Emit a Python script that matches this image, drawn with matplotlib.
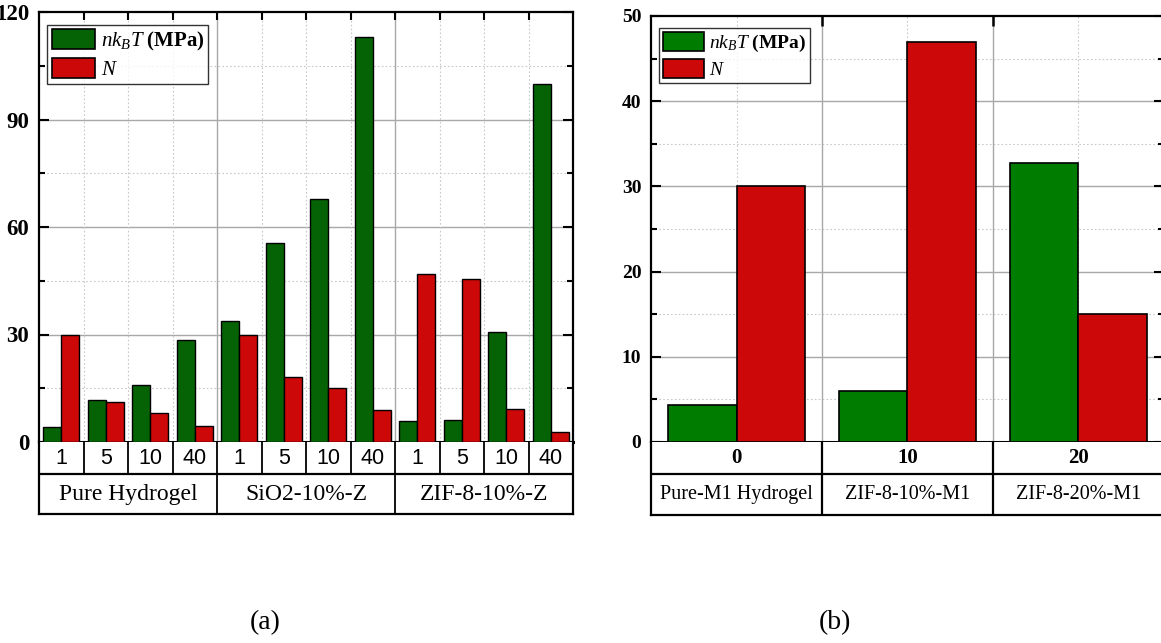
import matplotlib
matplotlib.use("Agg")
import matplotlib.pyplot as plt
from matplotlib.patches import Patch
import numpy as np

# --- dados ---
# (a) doses 1/5/10/40 para cada material
doses_a = ["1", "5", "10", "40"] * 3
materiais_a = ["Pure Hydrogel", "SiO2-10%-Z", "ZIF-8-10%-Z"]
nkbt_a = [4.3, 11.7, 15.9, 28.6, 33.9, 55.6, 67.9, 113.1, 6.0, 6.2, 30.7, 99.8]
n_a = [30.0, 11.1, 8.1, 4.5, 30.0, 18.2, 15.0, 9.0, 46.9, 45.6, 9.2, 2.8]

# (b) teor de ZIF-8
teor_b = ["0", "10", "20"]
materiais_b = ["Pure-M1 Hydrogel", "ZIF-8-10%-M1", "ZIF-8-20%-M1"]
nkbt_b = [4.3, 6.0, 32.8]
n_b = [30.0, 47.0, 15.0]

# --- estilo ---
plt.rcParams["font.family"] = ["Liberation Serif"]
plt.rcParams["mathtext.fontset"] = "custom"
plt.rcParams["mathtext.rm"] = "Liberation Serif"
plt.rcParams["mathtext.it"] = "Liberation Serif:italic"
plt.rcParams["mathtext.bf"] = "Liberation Serif:bold"

VERMELHO = "#cc0808"
GRID_MAJ = dict(color="#a8a8a8", lw=1.0, ls="-")
GRID_MIN = dict(color="#c8c8c8", lw=0.8, ls=(0, (1.5, 2)))
LABEL_NKBT = r"$nk_BT\ \mathbf{(MPa)}$"

W, H = 1161, 643
fig = plt.figure(figsize=(W / 100, H / 100), dpi=100)


def px_axes(x0, x1, y0, y1):
    """Cria eixos a partir de coordenadas em pixels (origem no topo)."""
    return fig.add_axes([x0 / W, 1 - y1 / H, (x1 - x0) / W, (y1 - y0) / H])


def estilo_eixo(ax, ymax, ystep, fs, pad):
    ax.set_ylim(0, ymax)
    ax.set_yticks(np.arange(0, ymax + 0.1, ystep))
    ax.set_yticks(np.arange(ystep / 2, ymax, ystep), minor=True)
    ax.tick_params(axis="y", which="both", direction="in", left=True, right=True,
                   width=1.5, labelsize=fs, pad=pad)
    ax.tick_params(axis="y", which="major", length=7)
    ax.tick_params(axis="y", which="minor", length=4)
    for lab in ax.get_yticklabels():
        lab.set_fontweight("bold")
    for s in ax.spines.values():
        s.set_linewidth(1.6)
    ax.spines["bottom"].set_linewidth(2.2)
    ax.set_axisbelow(True)
    for y in np.arange(ystep, ymax, ystep):
        ax.axhline(y, zorder=0, **GRID_MAJ)
    for y in np.arange(ystep / 2, ymax, ystep):
        ax.axhline(y, zorder=0, **GRID_MIN)


def legenda(ax, verde, fs):
    handles = [Patch(facecolor=verde, edgecolor="black", lw=1.2),
               Patch(facecolor=VERMELHO, edgecolor="black", lw=1.2)]
    leg = ax.legend(handles, [LABEL_NKBT, r"$N$"], loc="upper left",
                    bbox_to_anchor=(0.008, 0.98), fontsize=fs, frameon=True,
                    fancybox=False, handlelength=2.1, handleheight=1.1,
                    handletextpad=0.25, labelspacing=0.25, borderpad=0.2,
                    borderaxespad=0.2)
    leg.get_frame().set_edgecolor("black")
    leg.get_frame().set_linewidth(1.0)


def tabela(ax_tab, n):
    ax_tab.set_xlim(0, n)
    ax_tab.set_ylim(0, 1)
    ax_tab.set_xticks([])
    ax_tab.set_yticks([])
    for s in ax_tab.spines.values():
        s.set_linewidth(1.6)
    ax_tab.spines["top"].set_visible(False)
    ax_tab.axhline(0.555, color="black", lw=1.6)


# ---------------- (a) ----------------
ax1 = px_axes(39, 573, 12, 442)
x = np.arange(len(nkbt_a)) + 0.5
ax1.bar(x - 0.2, nkbt_a, width=0.4, color="#056305", edgecolor="black", lw=1.0, zorder=3)
ax1.bar(x + 0.2, n_a, width=0.4, color=VERMELHO, edgecolor="black", lw=1.0, zorder=3)
ax1.set_xlim(0, len(nkbt_a))
estilo_eixo(ax1, 120, 30, 16.5, 7)
for xb in range(1, len(nkbt_a)):
    ax1.axvline(xb, zorder=0, **(GRID_MAJ if xb % 4 == 0 else GRID_MIN))
ax1.set_xticks(range(1, len(nkbt_a)))
ax1.tick_params(axis="x", direction="in", bottom=False, top=True, labelbottom=False,
                length=6, width=1.5)
legenda(ax1, "#056305", 15)

t1 = px_axes(39, 573, 442, 514)
tabela(t1, len(nkbt_a))
for xb in range(1, len(nkbt_a)):
    t1.plot([xb, xb], [0.555 if xb % 4 else 0, 1], color="black", lw=1.3)
for xi, d in zip(x, doses_a):
    t1.text(xi, 0.775, d, ha="center", va="center", fontsize=15.5,
            family="Liberation Sans")
for i, m in enumerate(materiais_a):
    t1.text(4 * i + 2, 0.275, m, ha="center", va="center", fontsize=17)

# ---------------- (b) ----------------
ax2 = px_axes(651, 1164, 16, 442)
xb2 = np.arange(len(nkbt_b)) + 0.5
ax2.bar(xb2 - 0.2, nkbt_b, width=0.4, color="#007c00", edgecolor="black", lw=1.2, zorder=3)
ax2.bar(xb2 + 0.2, n_b, width=0.4, color=VERMELHO, edgecolor="black", lw=1.2, zorder=3)
ax2.set_xlim(0, len(nkbt_b))
estilo_eixo(ax2, 50, 10, 14, 7)
for xv in range(1, len(nkbt_b)):
    ax2.axvline(xv, zorder=0, **GRID_MAJ)
for xv in xb2:
    ax2.axvline(xv, zorder=0, **GRID_MIN)
ax2.set_xticks(range(1, len(nkbt_b)))
ax2.tick_params(axis="x", direction="in", bottom=False, top=True, labelbottom=False,
                length=7, width=1.8)
legenda(ax2, "#007c00", 14)

t2 = px_axes(651, 1164, 442, 515)
tabela(t2, len(nkbt_b))
for xv in range(1, len(nkbt_b)):
    t2.plot([xv, xv], [0, 1], color="black", lw=1.6)
for xi, t, m in zip(xb2, teor_b, materiais_b):
    t2.text(xi, 0.775, t, ha="center", va="center", fontsize=15, fontweight="bold")
    t2.text(xi, 0.275, m, ha="center", va="center", fontsize=14.5)

fig.text(265 / W, 1 - 623 / H, "(a)", ha="center", va="center", fontsize=20)
fig.text(835 / W, 1 - 623 / H, "(b)", ha="center", va="center", fontsize=20)

fig.savefig("out.png", dpi=100)
